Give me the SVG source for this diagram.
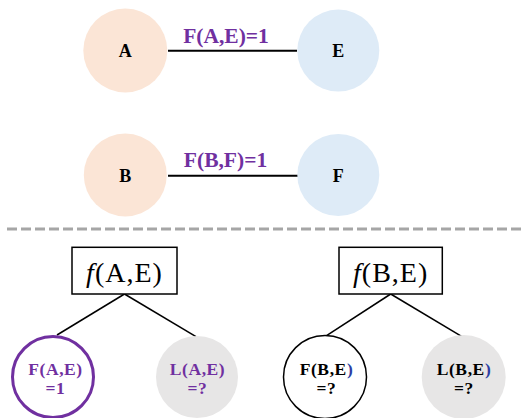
<svg xmlns="http://www.w3.org/2000/svg" width="524" height="418" viewBox="0 0 524 418">
<style>
.lbl{font-family:"Liberation Serif",serif;font-weight:bold;text-anchor:middle}
.node{font-size:18px}
.sm{font-size:17.5px;letter-spacing:0.6px}
.top{font-size:21.5px}
.pur{fill:#7030A0}
.blk{fill:#000}
.edge{stroke:#000;stroke-width:2;fill:none}
.tree{stroke:#000;stroke-width:1.5;fill:none}
.fx{font-family:"Liberation Serif",serif;font-size:28px;text-anchor:middle;letter-spacing:1px}
.peach{fill:#FBE5D6}
.blue{fill:#DEEBF7}
.gray{fill:#E7E6E6}
</style>
<rect width="524" height="418" fill="#fff"/>
<g id="connectors">
<line class="edge" x1="168" y1="50.7" x2="297" y2="50.7"/>
<line class="edge" x1="168" y1="175.7" x2="299" y2="175.7"/>
<line class="tree" x1="124.5" y1="294" x2="57" y2="335"/>
<line class="tree" x1="124.5" y1="294" x2="196" y2="336.7"/>
<line class="tree" x1="390.7" y1="294" x2="325" y2="336.7"/>
<line class="tree" x1="390.7" y1="294" x2="462" y2="336.7"/>
<text class="lbl pur top" x="226" y="43">F(A,E)=1</text>
<text class="lbl pur top" x="225.5" y="167">F(B,F)=1</text>
</g>
<line x1="7" y1="229" x2="524" y2="229" stroke="#A6A6A6" stroke-width="3" stroke-dasharray="10 4"/>
<g id="A"><circle class="peach" cx="125.3" cy="50.5" r="42"/><text class="lbl blk node" x="125.3" y="57">A</text></g>
<g id="E"><circle class="blue" cx="338.3" cy="50.6" r="41"/><text class="lbl blk node" x="338.3" y="57">E</text></g>
<g id="B"><circle class="peach" cx="125.3" cy="175" r="41.5"/><text class="lbl blk node" x="125.3" y="181.5">B</text></g>
<g id="F"><circle class="blue" cx="338.3" cy="175" r="41"/><text class="lbl blk node" x="338.3" y="181.5">F</text></g>
<g id="fAE"><rect x="72" y="247.3" width="105" height="46.7" fill="#fff" stroke="#000" stroke-width="1.5"/><text class="fx" x="124.5" y="281.5"><tspan font-style="italic">f</tspan>(A,E)</text></g>
<g id="fBE"><rect x="339" y="247.3" width="103.3" height="46.7" fill="#fff" stroke="#000" stroke-width="1.5"/><text class="fx" x="390.7" y="281.5"><tspan font-style="italic">f</tspan>(B,E)</text></g>
<g id="FAE"><circle cx="53" cy="377" r="40.5" fill="#fff" stroke="#7030A0" stroke-width="3"/><text class="lbl pur sm"><tspan x="55.5" y="375">F(A,E)</tspan><tspan x="55.5" y="394">=1</tspan></text></g>
<g id="LAE"><circle class="gray" cx="197" cy="377" r="41"/><text class="lbl pur sm"><tspan x="197.5" y="375">L(A,E)</tspan><tspan x="197.5" y="394">=?</tspan></text></g>
<g id="FBE"><circle cx="325" cy="377" r="41.5" fill="#fff" stroke="#000" stroke-width="1.5"/><text class="lbl blk sm"><tspan x="326.5" y="375">F(B,E<tspan fill="#2E3FA3">)</tspan></tspan><tspan x="326.5" y="394">=?</tspan></text></g>
<g id="LBE"><circle class="gray" cx="463.7" cy="377" r="42"/><text class="lbl blk sm"><tspan x="464" y="375">L(B,E<tspan fill="#2E3FA3">)</tspan></tspan><tspan x="464" y="394">=?</tspan></text></g>
</svg>
